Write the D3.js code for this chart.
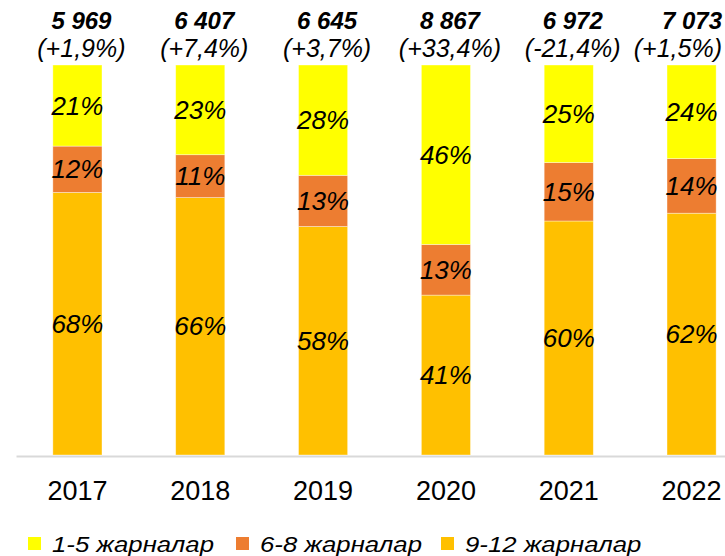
<!DOCTYPE html>
<html>
<head>
<meta charset="utf-8">
<script src="https://cdn.jsdelivr.net/npm/d3@7"></script>
<style>
  body { margin: 0; background: #fff; }
  text { font-family: Arial, "Liberation Sans", sans-serif; }
</style>
</head>
<body>
<div id="chart"></div>
<script>
// Data
var years = ["2017", "2018", "2019", "2020", "2021", "2022"];
var totals = ["5 969", "6 407", "6 645", "8 867", "6 972", "7 073"];
var changes = ["(+1,9%)", "(+7,4%)", "(+3,7%)", "(+33,4%)", "(-21,4%)", "(+1,5%)"];
var share912 = [68, 66, 58, 41, 60, 62];
var share68 = [12, 11, 13, 13, 15, 14];
var share15 = [21, 23, 28, 46, 25, 24];
var seriesNames = ["9-12 жарналар", "6-8 жарналар", "1-5 жарналар"];
var legendOrder = ["1-5 жарналар", "6-8 жарналар", "9-12 жарналар"];

var colors = {
  "1-5 жарналар": "#FFFF00",
  "6-8 жарналар": "#ED7D31",
  "9-12 жарналар": "#FFC000"
};

var svgWidth = 725;
var svgHeight = 556;

var svg = d3.select("#chart")
  .append("svg")
  .attr("width", svgWidth)
  .attr("height", svgHeight);

// build table for the stack
var table = years.map(function(y, i) {
  return {
    year: y,
    "9-12 жарналар": share912[i],
    "6-8 жарналар": share68[i],
    "1-5 жарналар": share15[i]
  };
});

var stack = d3.stack()
  .keys(seriesNames)
  .offset(d3.stackOffsetExpand);
var stacked = stack(table);

var xScale = d3.scaleBand()
  .domain(years)
  .range([16, 753])
  .paddingInner(0.6)
  .paddingOuter(0.3);

var yScale = d3.scaleLinear()
  .domain([0, 1])
  .range([455, 65]);

// bars
var layers = svg.selectAll(".layer")
  .data(stacked)
  .enter()
  .append("g")
  .attr("class", "layer")
  .attr("fill", d => colors[d.key]);

layers.selectAll("rect")
  .data(d => d)
  .enter()
  .append("rect")
  .attr("x", d => xScale(d.data.year))
  .attr("y", d => yScale(d[1]))
  .attr("width", xScale.bandwidth())
  .attr("height", d => yScale(d[0]) - yScale(d[1]))
  .attr("stroke", "#fff")
  .attr("stroke-opacity", 0.5)
  .attr("stroke-width", 0.75);

// percent labels
layers.selectAll("text")
  .data(d => d.map(function(p) { return { p: p, key: d.key }; }))
  .enter()
  .append("text")
  .attr("x", d => xScale(d.p.data.year) + xScale.bandwidth() / 2)
  .attr("y", d => (yScale(d.p[0]) + yScale(d.p[1])) / 2 + 9)
  .attr("text-anchor", "middle")
  .attr("font-size", "26px")
  .attr("font-style", "italic")
  .attr("fill", "#000")
  .text(d => d.p.data[d.key] + "%");

// axis line
var bottomAxis = d3.axisBottom(xScale).tickSize(0).tickPadding(25);
var xAxis = svg.append("g")
  .attr("transform", "translate(0, 456)")
  .call(bottomAxis);
xAxis.select(".domain")
  .attr("stroke", "#D9D9D9")
  .attr("stroke-width", 2);
xAxis.selectAll(".tick text")
  .attr("font-size", "27px")
  .attr("font-family", "Arial, 'Liberation Sans', sans-serif")
  .attr("fill", "#000");

// keep a label inside the right edge
function fitRight(sel) {
  sel.each(function() {
    var t = d3.select(this);
    var w = this.getComputedTextLength();
    var x = +t.attr("x");
    if (x + w / 2 > 722) t.attr("x", 722 - w / 2);
  });
}

// totals on top
var topGroup = svg.append("g");
topGroup.selectAll(".total")
  .data(years)
  .enter()
  .append("text")
  .attr("class", "total")
  .attr("x", d => xScale(d) + xScale.bandwidth() / 2 + 4)
  .attr("y", 29)
  .attr("text-anchor", "middle")
  .attr("font-size", "24px")
  .attr("font-weight", "bold")
  .attr("font-style", "italic")
  .text((d, i) => totals[i])
  .call(fitRight);

topGroup.selectAll(".change")
  .data(years)
  .enter()
  .append("text")
  .attr("class", "change")
  .attr("x", d => xScale(d) + xScale.bandwidth() / 2 + 4)
  .attr("y", 57)
  .attr("text-anchor", "middle")
  .attr("font-size", "25px")
  .attr("font-style", "italic")
  .text((d, i) => changes[i])
  .call(fitRight);

// legend
var legendX = [28, 236, 441];
var legend = svg.append("g");
var items = legend.selectAll(".item")
  .data(legendOrder)
  .enter()
  .append("g")
  .attr("class", "item")
  .attr("transform", (d, i) => `translate(${legendX[i]}, 537)`);

items.append("rect")
  .attr("width", 13)
  .attr("height", 13)
  .attr("fill", d => colors[d]);

items.append("text")
  .attr("transform", "translate(24, 15) scale(1.17, 1)")
  .attr("font-size", "22px")
  .attr("font-style", "italic")
  .text(d => d);
</script>
</body>
</html>
